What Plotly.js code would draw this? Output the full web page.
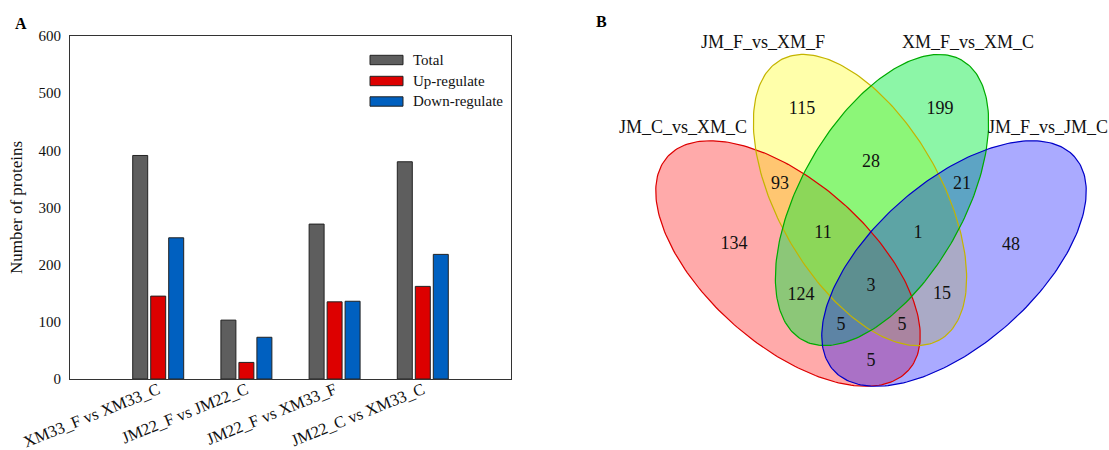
<!DOCTYPE html>
<html>
<head>
<meta charset="utf-8">
<script src="https://cdn.plot.ly/plotly-3.0.1.min.js"></script>
<style>
html,body{margin:0;padding:0;background:#fff;}
#chart{width:1109px;height:450px;}
</style>
</head>
<body>
<div id="chart"></div>
<script>
// ---------- DATA ----------
const categories = ['XM33_F vs XM33_C', 'JM22_F vs JM22_C', 'JM22_F vs XM33_F', 'JM22_C vs XM33_C'];
const seriesNames = ['Total', 'Up-regulate', 'Down-regulate'];
const totalVals = [391, 103, 271, 380];
const upVals = [145, 29, 135, 162];
const downVals = [247, 73, 136, 218];
const yTickVals = [0, 100, 200, 300, 400, 500, 600];

const setNames = ['JM_C_vs_XM_C', 'JM_F_vs_XM_F', 'XM_F_vs_XM_C', 'JM_F_vs_JM_C']; // A B C D
const regionKeys = ['A', 'B', 'C', 'D', 'AB', 'BC', 'CD', 'ABC', 'BCD', 'AC', 'ABCD', 'BD', 'ACD', 'ABD', 'AD'];
const regionCounts = [134, 115, 199, 48, 93, 28, 21, 11, 1, 124, 3, 15, 5, 5, 5];

// ---------- LAYOUT / STYLE (pixel coordinates of the 1109x450 canvas) ----------
const W = 1109, H = 450;
const plotBox = {l: 70, r: 511, t: 36, b: 379};
const barColors = ['#5e5e5e', '#dd0000', '#0060c0'];
const serif = 'Liberation Serif';

const ellipseGeom = [
  {cx: 788, cy: 263.5, a: 161, b: 81.5, ang: 41.4},
  {cx: 860, cy: 200, a: 161, b: 81.5, ang: 60.3},
  {cx: 882, cy: 200, a: 161, b: 81.5, ang: -60.3},
  {cx: 954, cy: 263.5, a: 161, b: 81.5, ang: -41.4}
];
const ellipseFill = ['rgba(255,0,0,0.333)', 'rgba(255,255,0,0.333)', 'rgba(0,235,60,0.45)', 'rgba(0,0,255,0.333)'];
const ellipseLine = ['#dd0000', '#c4b400', '#00aa00', '#0000c8'];
const setLabelPos = [[683, 128], [763, 43], [968, 43], [1048, 128]];
const regionPos = {
  A: [734, 244], B: [802, 109], C: [940, 109], D: [1011, 245],
  AB: [780, 184], BC: [871, 162], CD: [962, 184],
  ABC: [823, 233], BCD: [918, 233], AC: [801, 295], ABCD: [871, 286],
  BD: [942, 294], ACD: [841, 325], ABD: [902, 325], AD: [871, 361]
};

const px = x => x / W;
const py = y => 1 - y / H;

// ---------- BAR TRACES ----------
const xPos = categories.map((c, i) => i + 1);
const barVals = [totalVals, upVals, downVals];
const traces = barVals.map((vals, k) => ({
  type: 'bar', x: xPos, y: vals, name: seriesNames[k],
  marker: {color: barColors[k], line: {color: '#222', width: 1}},
  xaxis: 'x', yaxis: 'y', hoverinfo: 'skip', showlegend: false
}));

// ---------- VENN TRACES ----------
function ellipsePts(g) {
  const xs = [], ys = [];
  const t = g.ang * Math.PI / 180;
  for (let i = 0; i <= 240; i++) {
    const s = 2 * Math.PI * i / 240;
    const ex = g.a * Math.cos(s), ey = g.b * Math.sin(s);
    xs.push(g.cx + ex * Math.cos(t) - ey * Math.sin(t));
    ys.push(g.cy + ex * Math.sin(t) + ey * Math.cos(t));
  }
  return {xs, ys};
}
ellipseGeom.forEach((g, i) => {
  const p = ellipsePts(g);
  traces.push({type: 'scatter', mode: 'none', x: p.xs, y: p.ys, fill: 'toself',
    fillcolor: ellipseFill[i], xaxis: 'x2', yaxis: 'y2', hoverinfo: 'skip', showlegend: false});
});
ellipseGeom.forEach((g, i) => {
  const p = ellipsePts(g);
  traces.push({type: 'scatter', mode: 'lines', x: p.xs, y: p.ys,
    line: {color: ellipseLine[i], width: 1.2}, xaxis: 'x2', yaxis: 'y2', hoverinfo: 'skip', showlegend: false});
});
traces.push({type: 'scatter', mode: 'text',
  x: regionKeys.map(k => regionPos[k][0]), y: regionKeys.map(k => regionPos[k][1]),
  text: regionCounts.map(String), textposition: 'middle center',
  textfont: {family: serif, size: 18, color: '#111'},
  xaxis: 'x2', yaxis: 'y2', hoverinfo: 'skip', showlegend: false});
traces.push({type: 'scatter', mode: 'text',
  x: setLabelPos.map(p => p[0]), y: setLabelPos.map(p => p[1]),
  text: setNames, textposition: 'middle center',
  textfont: {family: serif, size: 18, color: '#111'},
  xaxis: 'x2', yaxis: 'y2', hoverinfo: 'skip', showlegend: false, cliponaxis: false});

// ---------- CUSTOM LEGEND ----------
const legendRows = [60, 81, 101.5];
const shapes = seriesNames.map((n, k) => ({
  type: 'rect', xref: 'paper', yref: 'paper',
  x0: px(370), x1: px(403), y0: py(legendRows[k] - 4.7), y1: py(legendRows[k] + 4.7),
  fillcolor: barColors[k], line: {color: '#222', width: 1}
}));
const annotations = seriesNames.map((n, k) => ({
  xref: 'paper', yref: 'paper', x: px(411), y: py(legendRows[k]), text: n,
  showarrow: false, xanchor: 'left', yanchor: 'middle',
  font: {family: serif, size: 15, color: '#111'}
}));
annotations.push({xref: 'paper', yref: 'paper', x: px(21), y: py(23), text: '<b>A</b>',
  showarrow: false, xanchor: 'center', yanchor: 'middle', font: {family: serif, size: 16, color: '#000'}});
annotations.push({xref: 'paper', yref: 'paper', x: px(601), y: py(22), text: '<b>B</b>',
  showarrow: false, xanchor: 'center', yanchor: 'middle', font: {family: serif, size: 16, color: '#000'}});

const layout = {
  width: W, height: H,
  margin: {l: 0, r: 0, t: 0, b: 0},
  paper_bgcolor: '#fff', plot_bgcolor: '#fff',
  barmode: 'group', bargap: 0.388, bargroupgap: 0.167,
  showlegend: false,
  font: {family: serif, color: '#111'},
  xaxis: {
    domain: [px(plotBox.l), px(plotBox.r)], range: [0, 5],
    tickvals: xPos, ticktext: categories, tickangle: -22,
    tickfont: {family: serif, size: 16.5, color: '#111'},
    showline: true, mirror: true, linecolor: '#333', linewidth: 1,
    ticks: '', showgrid: false, zeroline: false, fixedrange: true,
    ticklabelstandoff: -6
  },
  yaxis: {
    domain: [py(plotBox.b), py(plotBox.t)], range: [0, 600],
    tickvals: yTickVals, tickfont: {family: serif, size: 15, color: '#111'},
    showline: true, mirror: true, linecolor: '#333', linewidth: 1,
    ticks: '', showgrid: false, zeroline: false, fixedrange: true,
    ticklabelstandoff: 5,
    title: {text: 'Number of proteins', font: {family: serif, size: 17, color: '#111'}, standoff: 11}
  },
  xaxis2: {domain: [px(600), 1], range: [600, 1109], visible: false, fixedrange: true, anchor: 'y2'},
  yaxis2: {domain: [0, 1], range: [450, 0], visible: false, fixedrange: true, anchor: 'x2'},
  shapes: shapes,
  annotations: annotations
};

Plotly.newPlot('chart', traces, layout, {staticPlot: true, displayModeBar: false});
</script>
</body>
</html>
